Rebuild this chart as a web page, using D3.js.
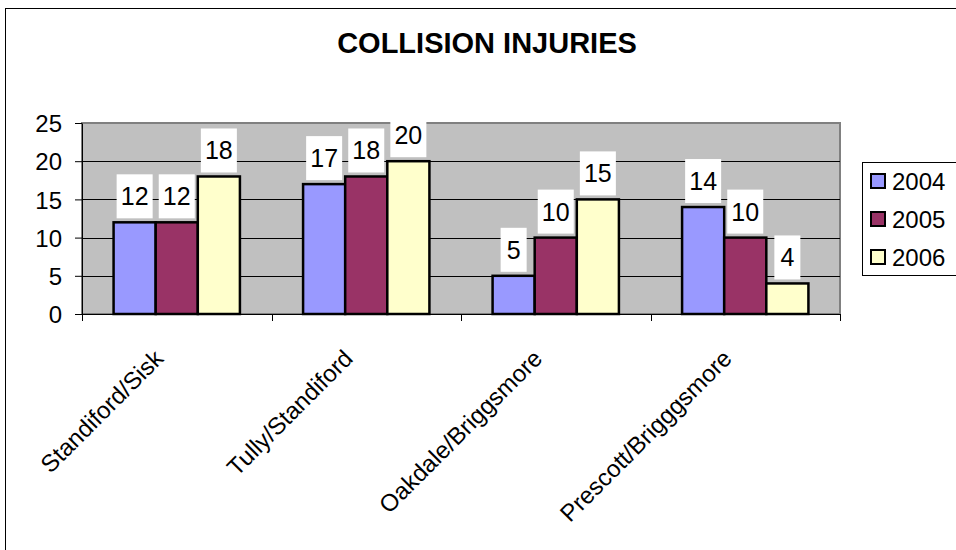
<!DOCTYPE html>
<meta charset="utf-8">
<style>

body {
  margin: 0;
  background: #fff;
}

text {
  font-family: Arial, "Liberation Sans", Helvetica, sans-serif;
  fill: #000;
}

.title {
  font-size: 29px;
  font-weight: bold;
  text-anchor: middle;
}

.tick-label {
  font-size: 24px;
}

.value-label {
  font-size: 25px;
  text-anchor: middle;
}

.legend-label {
  font-size: 24px;
}

</style>
<svg width=956 height=550></svg>
<script src='https://d3js.org/d3.v7.min.js'></script>
<script>

const categories = ["Standiford/Sisk", "Tully/Standiford", "Oakdale/Briggsmore", "Prescott/Brigggsmore"];
const seriesNames = ["2004", "2005", "2006"];
const values2004 = [12, 17, 5, 14];
const values2005 = [12, 18, 10, 10];
const values2006 = [18, 20, 15, 4];
const yTicks = [0, 5, 10, 15, 20, 25];

const seriesValues = [values2004, values2005, values2006];
const seriesColours = {"2004": "#9999ff", "2005": "#993366", "2006": "#ffffcc"};

const plotLeft = 82;
const plotRight = 840;
const plotTop = 123;
const plotBottom = 314;

let svg = d3.select("svg");

// chart frame, runs off the right and bottom of the picture
svg.append("rect")
  .attr("x", 5.5)
  .attr("y", 8.5)
  .attr("width", 1000)
  .attr("height", 600)
  .attr("fill", "#fff")
  .attr("stroke", "#000")
  .attr("stroke-width", 1);

let x = d3.scaleBand()
  .domain(categories)
  .range([plotLeft, plotRight])
  .padding(0);

// gap width 150%: 3 bars + 1.5 bar widths of space per category
let xInner = d3.scaleBand()
  .domain(seriesNames)
  .range([0, x.bandwidth()])
  .paddingInner(0)
  .paddingOuter(0.75);

let y = d3.scaleLinear()
  .domain([0, 25])
  .range([plotBottom, plotTop]);

// plot area
svg.append("rect")
  .attr("x", plotLeft)
  .attr("y", plotTop)
  .attr("width", plotRight - plotLeft)
  .attr("height", plotBottom - plotTop)
  .attr("fill", "#c0c0c0")
  .attr("stroke", "#808080")
  .attr("stroke-width", 2);

// gridlines
svg.append("g")
  .selectAll("line")
  .data(yTicks.filter(d => d > 0 && d < 25))
  .enter().append("line")
  .attr("x1", plotLeft)
  .attr("x2", plotRight)
  .attr("y1", d => Math.round(y(d)) + 0.5)
  .attr("y2", d => Math.round(y(d)) + 0.5)
  .attr("stroke", "#000")
  .attr("stroke-width", 1);

// y axis
let yAxis = svg.append("g")
  .attr("transform", "translate(" + plotLeft + ",0)")
  .call(d3.axisLeft(y).tickValues(yTicks).tickSize(7).tickSizeOuter(0).tickPadding(13));
yAxis.select(".domain").attr("stroke", "#000");
yAxis.selectAll(".tick line").attr("stroke", "#000");
yAxis.selectAll(".tick text")
  .attr("class", "tick-label")
  .attr("font-family", null)
  .attr("font-size", null)
  .attr("dy", "0.36em");

// x axis: ticks on category boundaries
let boundaries = categories.map(d => x(d)).concat([plotRight]);
let xAxisG = svg.append("g");
xAxisG.append("line")
  .attr("x1", plotLeft)
  .attr("x2", plotRight)
  .attr("y1", plotBottom + 0.5)
  .attr("y2", plotBottom + 0.5)
  .attr("stroke", "#000");
xAxisG.selectAll(".xtick")
  .data(boundaries)
  .enter().append("line")
  .attr("class", "xtick")
  .attr("x1", d => Math.round(d) + 0.5)
  .attr("x2", d => Math.round(d) + 0.5)
  .attr("y1", plotBottom)
  .attr("y2", plotBottom + 7)
  .attr("stroke", "#000");

xAxisG.selectAll(".cat-label")
  .data(categories)
  .enter().append("text")
  .attr("class", "tick-label")
  .attr("text-anchor", "end")
  .attr("font-size", "26px")
  .attr("transform", d => "translate(" + (x(d) + x.bandwidth() / 2 - 12) + "," + 360 + ") rotate(-45)")
  .text(d => d);

// bars
let barData = [];
categories.forEach((c, i) => {
  seriesNames.forEach((s, j) => {
    barData.push({category: c, series: s, value: seriesValues[j][i]});
  });
});

svg.append("g")
  .selectAll("rect")
  .data(barData)
  .enter().append("rect")
  .attr("x", d => x(d.category) + xInner(d.series))
  .attr("y", d => y(d.value))
  .attr("width", xInner.bandwidth())
  .attr("height", d => plotBottom - y(d.value))
  .attr("fill", d => seriesColours[d.series])
  .attr("stroke", "#000")
  .attr("stroke-width", 2.5);

// value labels on white boxes
let labels = svg.append("g")
  .selectAll("g")
  .data(barData)
  .enter().append("g")
  .attr("transform", d => "translate(" + (x(d.category) + xInner(d.series) + xInner.bandwidth() / 2) + "," + y(d.value) + ")");

labels.append("rect")
  .attr("x", d => d.value < 10 ? -13 : -18)
  .attr("y", -48)
  .attr("width", d => d.value < 10 ? 26 : 36)
  .attr("height", 44)
  .attr("fill", "#fff");

labels.append("text")
  .attr("class", "value-label")
  .attr("y", -17)
  .text(d => d.value);

// legend
let legend = svg.append("g");
legend.append("rect")
  .attr("x", 862.5)
  .attr("y", 162.5)
  .attr("width", 200)
  .attr("height", 113)
  .attr("fill", "#fff")
  .attr("stroke", "#000")
  .attr("stroke-width", 1);

let legendRows = legend.selectAll(".row")
  .data(seriesNames)
  .enter().append("g")
  .attr("class", "row")
  .attr("transform", (d, i) => "translate(871," + (181 + i * 38) + ")");

legendRows.append("rect")
  .attr("x", 0)
  .attr("y", -7)
  .attr("width", 14)
  .attr("height", 14)
  .attr("fill", d => seriesColours[d])
  .attr("stroke", "#000")
  .attr("stroke-width", 2);

legendRows.append("text")
  .attr("class", "legend-label")
  .attr("x", 21)
  .attr("y", 8.5)
  .text(d => d);

// title
svg.append("text")
  .attr("class", "title")
  .attr("x", 487)
  .attr("y", 53)
  .text("COLLISION INJURIES");

</script>
